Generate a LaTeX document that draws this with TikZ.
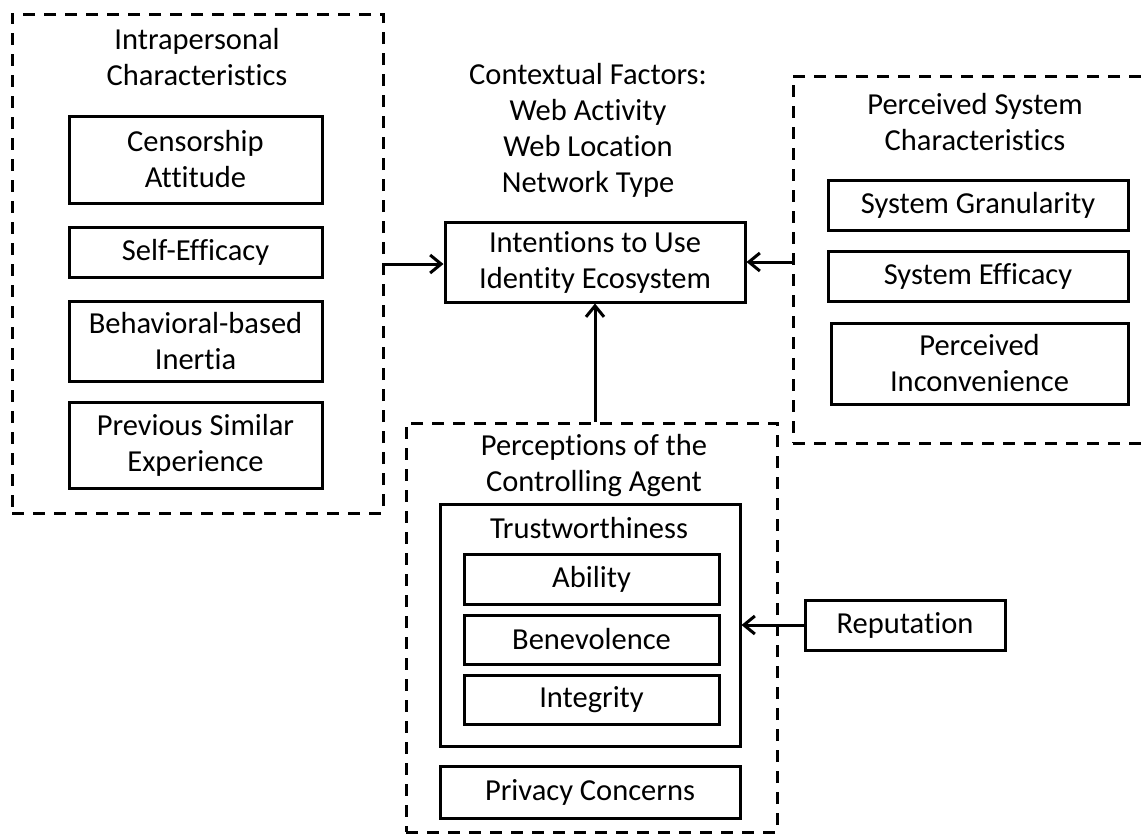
\documentclass[tikz,border=0pt]{standalone}
\usepackage{fontspec}
\setmainfont{Carlito}[Ligatures=NoCommon]
\usetikzlibrary{arrows.meta,positioning}

\tikzset{
	box/.style={draw, line width=3pt, align=center, inner sep=0pt, minimum width=253pt},
	group/.style={draw, line width=3pt, dash pattern=on 12pt off 9pt, inner sep=0pt},
	label/.style={align=center, inner sep=0pt},
	link/.style={line width=3pt, -{Straight Barb[length=11pt,width=18pt,line width=3pt]}},
}

\begin{document}
\begin{tikzpicture}[x=1pt, y=-1pt, font=\fontsize{30.5}{36}\selectfont]
	\useasboundingbox (0,0) rectangle (1141,833);
	\clip (0,0) rectangle (1141,833);

	% left group
	\node[group, minimum width=371pt, minimum height=499pt] (intra) at (197.5,263.5) {};
	\node[label] (intratitle) at (197,57) {Intrapersonal\\Characteristics};
	\node[box, minimum height=87pt] (cens) at (195.5,159.5) {Censorship\\Attitude};
	\node[box, minimum height=50pt, below=21pt of cens] (self) {Self-Efficacy};
	\node[box, minimum height=80pt, below=21pt of self] (inert) {Behavioral-based\\Inertia};
	\node[box, minimum height=86pt, below=18pt of inert] (prev) {Previous Similar\\Experience};

	% middle
	\node[label] (context) at (588,130) {Contextual Factors:\\Web Activity\\Web Location\\Network Type};
	\node[box, minimum width=300pt, minimum height=80pt] (intent) at (595,262) {Intentions to Use\\Identity Ecosystem};

	% right group
	\node[group, minimum width=400pt, minimum height=367pt] (perc) at (993,259.5) {};
	\node[label] (perctitle) at (975,122) {Perceived System\\Characteristics};
	\node[box, minimum width=300pt, minimum height=50pt] (gran) at (978,205) {System Granularity};
	\node[box, minimum width=300pt, minimum height=50pt, below=18pt of gran] (eff) {System Efficacy};
	\node[box, minimum width=297pt, minimum height=81pt] (incon) at (979.5,363.5) {Perceived\\Inconvenience};

	% bottom group
	\node[group, minimum width=371pt, minimum height=409pt] (agent) at (591.5,627.5) {};
	\node[label] (agenttitle) at (594,466) {Perceptions of the\\Controlling Agent};
	\node[box, minimum width=300pt, minimum height=242pt] (trust) at (590,625) {};
	\node[label] (trusttitle) at (589,528) {Trustworthiness};
	\node[box, minimum width=255pt, minimum height=50pt] (abil) at (591.5,579) {Ability};
	\node[box, minimum width=255pt, minimum height=49pt, below=8pt of abil] (bene) {Benevolence};
	\node[box, minimum width=255pt, minimum height=49pt, below=8pt of bene] (integ) {Integrity};
	\node[box, minimum width=300pt, minimum height=52pt] (priv) at (590,792) {Privacy Concerns};
	\node[box, minimum width=200pt, minimum height=50pt] (rep) at (905,625) {Reputation};

	\draw[link] (intra.east |- 0,264) -- (intent.west |- 0,264);
	\draw[link] (perc.west |- intent) -- (intent.east);
	\draw[link] (agent.north -| intent) -- (intent.south);
	\draw[link] (rep.west) -- (trust.east |- rep.west);
\end{tikzpicture}
\end{document}
